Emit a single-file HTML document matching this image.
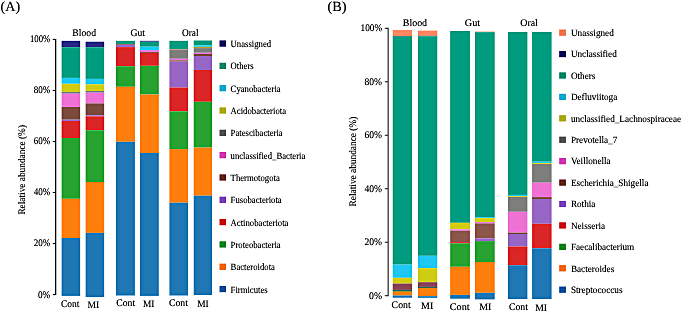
<!DOCTYPE html>
<html><head><meta charset="utf-8"><style>
html,body{margin:0;padding:0;background:#fff;}
svg{display:block;will-change:transform;}
text{font-family:"Liberation Serif",serif;fill:#111;stroke:#111;stroke-width:0.12px;text-rendering:geometricPrecision;}
.ll{font-size:9.6px;}
.rl{font-size:9.6px;}
</style></head><body>
<svg width="685" height="314" viewBox="0 0 685 314">
<defs><filter id="sh" x="0" y="0" width="685" height="314" filterUnits="userSpaceOnUse" color-interpolation-filters="sRGB">
<feGaussianBlur in="SourceGraphic" stdDeviation="0.35" result="s"/>
<feGaussianBlur in="s" stdDeviation="1.5" result="b"/>
<feComposite in="s" in2="b" operator="arithmetic" k1="0" k2="1.5" k3="-0.5" k4="0"/>
</filter></defs>
<g filter="url(#sh)">
<rect x="0" y="0" width="685" height="314" fill="#fff"/>
<text x="0.6" y="11.0" font-size="14" text-anchor="start" textLength="19.6" lengthAdjust="spacingAndGlyphs">(A)</text>
<text x="327.4" y="11.0" font-size="14" text-anchor="start" textLength="19.0" lengthAdjust="spacingAndGlyphs">(B)</text>
<line x1="55.7" y1="38.9" x2="55.7" y2="295.1" stroke="#222" stroke-width="1.2"/>
<line x1="52.8" y1="294.60" x2="55.7" y2="294.60" stroke="#222" stroke-width="1.1"/>
<text x="50.3" y="297.5" font-size="10.0" text-anchor="end" textLength="12.3" lengthAdjust="spacingAndGlyphs">0%</text>
<line x1="52.8" y1="243.56" x2="55.7" y2="243.56" stroke="#222" stroke-width="1.1"/>
<text x="50.3" y="246.46" font-size="10.0" text-anchor="end" textLength="16.6" lengthAdjust="spacingAndGlyphs">20%</text>
<line x1="52.8" y1="192.52" x2="55.7" y2="192.52" stroke="#222" stroke-width="1.1"/>
<text x="50.3" y="195.42000000000002" font-size="10.0" text-anchor="end" textLength="16.6" lengthAdjust="spacingAndGlyphs">40%</text>
<line x1="52.8" y1="141.48" x2="55.7" y2="141.48" stroke="#222" stroke-width="1.1"/>
<text x="50.3" y="144.38000000000002" font-size="10.0" text-anchor="end" textLength="16.6" lengthAdjust="spacingAndGlyphs">60%</text>
<line x1="52.8" y1="90.44" x2="55.7" y2="90.44" stroke="#222" stroke-width="1.1"/>
<text x="50.3" y="93.34" font-size="10.0" text-anchor="end" textLength="16.6" lengthAdjust="spacingAndGlyphs">80%</text>
<line x1="52.8" y1="39.40" x2="55.7" y2="39.40" stroke="#222" stroke-width="1.1"/>
<text x="50.3" y="42.30000000000003" font-size="10.0" text-anchor="end" textLength="20.4" lengthAdjust="spacingAndGlyphs">100%</text>
<text transform="translate(25.4,214.6) rotate(-90)" font-size="10" textLength="89.6" lengthAdjust="spacingAndGlyphs">Relative abundance (%)</text>
<rect x="61.6" y="40.8" width="18.60" height="6.40" fill="#2a2a86"/>
<rect x="61.6" y="47.2" width="18.60" height="30.70" fill="#009c80"/>
<rect x="61.6" y="77.9" width="18.60" height="5.90" fill="#1ec8f0"/>
<rect x="61.6" y="83.8" width="18.60" height="8.10" fill="#cfcc14"/>
<rect x="61.6" y="91.9" width="18.60" height="1.80" fill="#7e7e7c"/>
<rect x="61.6" y="93.7" width="18.60" height="13.30" fill="#ee72d4"/>
<rect x="61.6" y="107.0" width="18.60" height="12.70" fill="#7c4a3e"/>
<rect x="61.6" y="119.7" width="18.60" height="1.30" fill="#9866c4"/>
<rect x="61.6" y="121.0" width="18.60" height="17.00" fill="#da2626"/>
<rect x="61.6" y="138.0" width="18.60" height="60.80" fill="#28a230"/>
<rect x="61.6" y="198.8" width="18.60" height="39.20" fill="#ff7f0e"/>
<rect x="61.6" y="238.0" width="18.60" height="57.90" fill="#1f77b4"/>
<rect x="85.6" y="41.7" width="18.60" height="5.50" fill="#2a2a86"/>
<rect x="85.6" y="47.2" width="18.60" height="31.70" fill="#009c80"/>
<rect x="85.6" y="78.9" width="18.60" height="5.50" fill="#1ec8f0"/>
<rect x="85.6" y="84.4" width="18.60" height="6.60" fill="#cfcc14"/>
<rect x="85.6" y="91.0" width="18.60" height="1.70" fill="#7e7e7c"/>
<rect x="85.6" y="92.7" width="18.60" height="10.70" fill="#ee72d4"/>
<rect x="85.6" y="103.4" width="18.60" height="11.90" fill="#7c4a3e"/>
<rect x="85.6" y="115.3" width="18.60" height="1.00" fill="#9866c4"/>
<rect x="85.6" y="116.3" width="18.60" height="13.90" fill="#da2626"/>
<rect x="85.6" y="130.2" width="18.60" height="51.80" fill="#28a230"/>
<rect x="85.6" y="182.0" width="18.60" height="50.90" fill="#ff7f0e"/>
<rect x="85.6" y="232.9" width="18.60" height="64.10" fill="#1f77b4"/>
<rect x="116.0" y="40.8" width="18.90" height="3.20" fill="#009c80"/>
<rect x="116.0" y="44.0" width="18.90" height="0.80" fill="#7c4a3e"/>
<rect x="116.0" y="44.8" width="18.90" height="2.30" fill="#9866c4"/>
<rect x="116.0" y="47.1" width="18.90" height="19.10" fill="#da2626"/>
<rect x="116.0" y="66.2" width="18.90" height="20.60" fill="#28a230"/>
<rect x="116.0" y="86.8" width="18.90" height="55.00" fill="#ff7f0e"/>
<rect x="116.0" y="141.8" width="18.90" height="153.70" fill="#1f77b4"/>
<rect x="139.9" y="40.8" width="18.90" height="0.90" fill="#2a2a86"/>
<rect x="139.9" y="41.7" width="18.90" height="5.00" fill="#009c80"/>
<rect x="139.9" y="46.7" width="18.90" height="3.40" fill="#1ec8f0"/>
<rect x="139.9" y="50.1" width="18.90" height="2.00" fill="#ee72d4"/>
<rect x="139.9" y="52.1" width="18.90" height="0.90" fill="#7c4a3e"/>
<rect x="139.9" y="53.0" width="18.90" height="12.80" fill="#da2626"/>
<rect x="139.9" y="65.8" width="18.90" height="28.70" fill="#28a230"/>
<rect x="139.9" y="94.5" width="18.90" height="58.50" fill="#ff7f0e"/>
<rect x="139.9" y="153.0" width="18.90" height="142.90" fill="#1f77b4"/>
<rect x="169.4" y="40.8" width="18.70" height="8.20" fill="#009c80"/>
<rect x="169.4" y="49.0" width="18.70" height="0.50" fill="#b39a2a"/>
<rect x="169.4" y="49.5" width="18.70" height="9.30" fill="#7e7e7c"/>
<rect x="169.4" y="58.8" width="18.70" height="1.60" fill="#ee72d4"/>
<rect x="169.4" y="60.4" width="18.70" height="1.20" fill="#7c4a3e"/>
<rect x="169.4" y="61.6" width="18.70" height="25.90" fill="#9866c4"/>
<rect x="169.4" y="87.5" width="18.70" height="23.80" fill="#da2626"/>
<rect x="169.4" y="111.3" width="18.70" height="37.80" fill="#28a230"/>
<rect x="169.4" y="149.1" width="18.70" height="53.60" fill="#ff7f0e"/>
<rect x="169.4" y="202.7" width="18.70" height="92.80" fill="#1f77b4"/>
<rect x="193.7" y="40.5" width="18.30" height="4.70" fill="#009c80"/>
<rect x="193.7" y="45.2" width="18.30" height="1.70" fill="#1ec8f0"/>
<rect x="193.7" y="46.9" width="18.30" height="1.20" fill="#b39a2a"/>
<rect x="193.7" y="48.1" width="18.30" height="4.70" fill="#7e7e7c"/>
<rect x="193.7" y="52.8" width="18.30" height="1.20" fill="#ee72d4"/>
<rect x="193.7" y="54.0" width="18.30" height="2.00" fill="#7c4a3e"/>
<rect x="193.7" y="56.0" width="18.30" height="14.00" fill="#9866c4"/>
<rect x="193.7" y="70.0" width="18.30" height="31.80" fill="#da2626"/>
<rect x="193.7" y="101.8" width="18.30" height="45.80" fill="#28a230"/>
<rect x="193.7" y="147.6" width="18.30" height="48.10" fill="#ff7f0e"/>
<rect x="193.7" y="195.7" width="18.30" height="99.40" fill="#1f77b4"/>
<text x="72.3" y="35.8" font-size="10.0" text-anchor="start" textLength="23.7" lengthAdjust="spacingAndGlyphs">Blood</text>
<text x="130.5" y="35.7" font-size="10.0" text-anchor="start" textLength="14.5" lengthAdjust="spacingAndGlyphs">Gut</text>
<text x="181.9" y="35.5" font-size="10.0" text-anchor="start" textLength="16.6" lengthAdjust="spacingAndGlyphs">Oral</text>
<text x="61.0" y="306.6" font-size="10.0" text-anchor="start" textLength="18.5" lengthAdjust="spacingAndGlyphs">Cont</text>
<text x="87.4" y="307.8" font-size="10.0" text-anchor="start" textLength="11.8" lengthAdjust="spacingAndGlyphs">MI</text>
<text x="116.2" y="306.1" font-size="10.0" text-anchor="start" textLength="18.9" lengthAdjust="spacingAndGlyphs">Cont</text>
<text x="142.9" y="307.0" font-size="10.0" text-anchor="start" textLength="11.5" lengthAdjust="spacingAndGlyphs">MI</text>
<text x="168.9" y="306.3" font-size="10.0" text-anchor="start" textLength="19.0" lengthAdjust="spacingAndGlyphs">Cont</text>
<text x="197.2" y="307.3" font-size="10.0" text-anchor="start" textLength="11.5" lengthAdjust="spacingAndGlyphs">MI</text>
<rect x="219.5" y="40.40" width="6.5" height="6.3" fill="#141462"/>
<text x="230.6" y="47.00" class="ll" textLength="40.5" lengthAdjust="spacingAndGlyphs">Unassigned</text>
<rect x="219.5" y="62.72" width="6.5" height="6.3" fill="#0b8a6a"/>
<text x="230.6" y="69.32" class="ll" textLength="23.1" lengthAdjust="spacingAndGlyphs">Others</text>
<rect x="219.5" y="85.04" width="6.5" height="6.3" fill="#1aadd0"/>
<text x="230.6" y="91.64" class="ll" textLength="50.1" lengthAdjust="spacingAndGlyphs">Cyanobacteria</text>
<rect x="219.5" y="107.36" width="6.5" height="6.3" fill="#adac1c"/>
<text x="230.6" y="113.96" class="ll" textLength="55.4" lengthAdjust="spacingAndGlyphs">Acidobacteriota</text>
<rect x="219.5" y="129.68" width="6.5" height="6.3" fill="#555555"/>
<text x="230.6" y="136.28" class="ll" textLength="52.1" lengthAdjust="spacingAndGlyphs">Patescibacteria</text>
<rect x="219.5" y="152.00" width="6.5" height="6.3" fill="#d13cb4"/>
<text x="230.6" y="158.60" class="ll" textLength="74.7" lengthAdjust="spacingAndGlyphs">unclassified_Bacteria</text>
<rect x="219.5" y="174.32" width="6.5" height="6.3" fill="#682a20"/>
<text x="230.6" y="180.92" class="ll" textLength="49.2" lengthAdjust="spacingAndGlyphs">Thermotogota</text>
<rect x="219.5" y="196.64" width="6.5" height="6.3" fill="#7d45bd"/>
<text x="230.6" y="203.24" class="ll" textLength="51.1" lengthAdjust="spacingAndGlyphs">Fusobacteriota</text>
<rect x="219.5" y="218.96" width="6.5" height="6.3" fill="#cc1414"/>
<text x="230.6" y="225.56" class="ll" textLength="57.8" lengthAdjust="spacingAndGlyphs">Actinobacteriota</text>
<rect x="219.5" y="241.28" width="6.5" height="6.3" fill="#148a22"/>
<text x="230.6" y="247.88" class="ll" textLength="50.1" lengthAdjust="spacingAndGlyphs">Proteobacteria</text>
<rect x="219.5" y="263.60" width="6.5" height="6.3" fill="#f06a14"/>
<text x="230.6" y="270.20" class="ll" textLength="44.3" lengthAdjust="spacingAndGlyphs">Bacteroidota</text>
<rect x="219.5" y="285.92" width="6.5" height="6.3" fill="#1452a0"/>
<text x="230.6" y="292.52" class="ll" textLength="37.1" lengthAdjust="spacingAndGlyphs">Firmicutes</text>
<line x1="388.2" y1="27.8" x2="388.2" y2="296.2" stroke="#7a7a7a" stroke-width="1.6"/>
<line x1="384.8" y1="295.70" x2="388.2" y2="295.70" stroke="#444" stroke-width="1.1"/>
<text x="382.1" y="298.59999999999997" font-size="10.0" text-anchor="end" textLength="13.0" lengthAdjust="spacingAndGlyphs">0%</text>
<line x1="384.8" y1="242.22" x2="388.2" y2="242.22" stroke="#444" stroke-width="1.1"/>
<text x="382.1" y="245.12" font-size="10.0" text-anchor="end" textLength="17.6" lengthAdjust="spacingAndGlyphs">20%</text>
<line x1="384.8" y1="188.74" x2="388.2" y2="188.74" stroke="#444" stroke-width="1.1"/>
<text x="382.1" y="191.64000000000001" font-size="10.0" text-anchor="end" textLength="17.6" lengthAdjust="spacingAndGlyphs">40%</text>
<line x1="384.8" y1="135.26" x2="388.2" y2="135.26" stroke="#444" stroke-width="1.1"/>
<text x="382.1" y="138.16" font-size="10.0" text-anchor="end" textLength="17.6" lengthAdjust="spacingAndGlyphs">60%</text>
<line x1="384.8" y1="81.78" x2="388.2" y2="81.78" stroke="#444" stroke-width="1.1"/>
<text x="382.1" y="84.68" font-size="10.0" text-anchor="end" textLength="17.6" lengthAdjust="spacingAndGlyphs">80%</text>
<line x1="384.8" y1="28.30" x2="388.2" y2="28.30" stroke="#444" stroke-width="1.1"/>
<text x="382.1" y="31.20000000000001" font-size="10.0" text-anchor="end" textLength="21.6" lengthAdjust="spacingAndGlyphs">100%</text>
<text transform="translate(355.6,206.4) rotate(-90)" font-size="10" textLength="89.7" lengthAdjust="spacingAndGlyphs">Relative abundance (%)</text>
<rect x="392.7" y="30.1" width="19.30" height="5.90" fill="#ff8a65"/>
<rect x="392.7" y="36.0" width="19.30" height="0.60" fill="#183838"/>
<rect x="392.7" y="36.6" width="19.30" height="228.00" fill="#009c80"/>
<rect x="392.7" y="264.6" width="19.30" height="13.20" fill="#1ec8f0"/>
<rect x="392.7" y="277.8" width="19.30" height="5.80" fill="#cfcc14"/>
<rect x="392.7" y="283.6" width="19.30" height="6.30" fill="#8a4654"/>
<rect x="392.7" y="289.9" width="19.30" height="1.00" fill="#1e5046"/>
<rect x="392.7" y="290.9" width="19.30" height="0.90" fill="#6a7a20"/>
<rect x="392.7" y="291.8" width="19.30" height="3.70" fill="#ff7f0e"/>
<rect x="392.7" y="295.5" width="19.30" height="2.20" fill="#1f77b4"/>
<rect x="418.0" y="30.6" width="19.30" height="5.20" fill="#ff8a65"/>
<rect x="418.0" y="35.8" width="19.30" height="0.50" fill="#183838"/>
<rect x="418.0" y="36.3" width="19.30" height="219.50" fill="#009c80"/>
<rect x="418.0" y="255.8" width="19.30" height="12.40" fill="#1ec8f0"/>
<rect x="418.0" y="268.2" width="19.30" height="14.00" fill="#cfcc14"/>
<rect x="418.0" y="282.2" width="19.30" height="4.70" fill="#8a4654"/>
<rect x="418.0" y="286.9" width="19.30" height="1.00" fill="#1e5046"/>
<rect x="418.0" y="287.9" width="19.30" height="8.30" fill="#ff7f0e"/>
<rect x="418.0" y="296.2" width="19.30" height="1.60" fill="#1f77b4"/>
<rect x="450.2" y="31.0" width="19.70" height="191.80" fill="#009c80"/>
<rect x="450.2" y="222.8" width="19.70" height="6.50" fill="#cfcc14"/>
<rect x="450.2" y="229.3" width="19.70" height="1.40" fill="#ee72d4"/>
<rect x="450.2" y="230.7" width="19.70" height="11.40" fill="#8c564b"/>
<rect x="450.2" y="242.1" width="19.70" height="1.20" fill="#da2626"/>
<rect x="450.2" y="243.3" width="19.70" height="23.50" fill="#28a230"/>
<rect x="450.2" y="266.8" width="19.70" height="28.10" fill="#ff7f0e"/>
<rect x="450.2" y="294.9" width="19.70" height="3.80" fill="#1f77b4"/>
<rect x="475.0" y="31.6" width="19.70" height="0.60" fill="#ff8a65"/>
<rect x="475.0" y="32.2" width="19.70" height="185.00" fill="#009c80"/>
<rect x="475.0" y="217.2" width="19.70" height="0.90" fill="#1ec8f0"/>
<rect x="475.0" y="218.1" width="19.70" height="4.00" fill="#cfcc14"/>
<rect x="475.0" y="222.1" width="19.70" height="1.30" fill="#ee72d4"/>
<rect x="475.0" y="223.4" width="19.70" height="14.90" fill="#8c564b"/>
<rect x="475.0" y="238.3" width="19.70" height="2.80" fill="#9866c4"/>
<rect x="475.0" y="241.1" width="19.70" height="20.90" fill="#28a230"/>
<rect x="475.0" y="262.0" width="19.70" height="30.80" fill="#ff7f0e"/>
<rect x="475.0" y="292.8" width="19.70" height="6.60" fill="#1f77b4"/>
<rect x="508.0" y="31.9" width="19.40" height="163.00" fill="#009c80"/>
<rect x="508.0" y="194.9" width="19.40" height="1.10" fill="#1ec8f0"/>
<rect x="508.0" y="196.0" width="19.40" height="0.80" fill="#cfcc14"/>
<rect x="508.0" y="196.8" width="19.40" height="15.00" fill="#7e7e7c"/>
<rect x="508.0" y="211.8" width="19.40" height="20.90" fill="#ee72d4"/>
<rect x="508.0" y="232.7" width="19.40" height="1.30" fill="#7c4a3e"/>
<rect x="508.0" y="234.0" width="19.40" height="12.50" fill="#9866c4"/>
<rect x="508.0" y="246.5" width="19.40" height="18.70" fill="#da2626"/>
<rect x="508.0" y="265.2" width="19.40" height="33.80" fill="#1f77b4"/>
<rect x="532.1" y="31.9" width="19.50" height="129.80" fill="#009c80"/>
<rect x="532.1" y="161.7" width="19.50" height="1.30" fill="#1ec8f0"/>
<rect x="532.1" y="163.0" width="19.50" height="1.00" fill="#cfcc14"/>
<rect x="532.1" y="164.0" width="19.50" height="18.70" fill="#7e7e7c"/>
<rect x="532.1" y="182.7" width="19.50" height="14.40" fill="#ee72d4"/>
<rect x="532.1" y="197.1" width="19.50" height="1.90" fill="#7c4a3e"/>
<rect x="532.1" y="199.0" width="19.50" height="24.80" fill="#9866c4"/>
<rect x="532.1" y="223.8" width="19.50" height="24.50" fill="#da2626"/>
<rect x="532.1" y="248.3" width="19.50" height="50.70" fill="#1f77b4"/>
<text x="402.8" y="25.7" font-size="10.0" text-anchor="start" textLength="24.3" lengthAdjust="spacingAndGlyphs">Blood</text>
<text x="464.8" y="25.7" font-size="10.0" text-anchor="start" textLength="15.4" lengthAdjust="spacingAndGlyphs">Gut</text>
<text x="520.2" y="25.7" font-size="10.0" text-anchor="start" textLength="17.7" lengthAdjust="spacingAndGlyphs">Oral</text>
<text x="391.6" y="308.2" font-size="10.0" text-anchor="start" textLength="19.1" lengthAdjust="spacingAndGlyphs">Cont</text>
<text x="421.1" y="309.2" font-size="10.0" text-anchor="start" textLength="12.2" lengthAdjust="spacingAndGlyphs">MI</text>
<text x="449.8" y="309.5" font-size="10.0" text-anchor="start" textLength="19.9" lengthAdjust="spacingAndGlyphs">Cont</text>
<text x="479.2" y="309.9" font-size="10.0" text-anchor="start" textLength="12.2" lengthAdjust="spacingAndGlyphs">MI</text>
<text x="508.9" y="309.8" font-size="10.0" text-anchor="start" textLength="19.0" lengthAdjust="spacingAndGlyphs">Cont</text>
<text x="535.2" y="310.9" font-size="10.0" text-anchor="start" textLength="11.9" lengthAdjust="spacingAndGlyphs">MI</text>
<rect x="559.2" y="29.50" width="6.7" height="6.3" fill="#f07850"/>
<text x="570.9" y="35.90" class="rl" textLength="42.9" lengthAdjust="spacingAndGlyphs">Unassigned</text>
<rect x="559.2" y="50.92" width="6.7" height="6.3" fill="#141462"/>
<text x="570.9" y="57.32" class="rl" textLength="45.9" lengthAdjust="spacingAndGlyphs">Unclassified</text>
<rect x="559.2" y="72.34" width="6.7" height="6.3" fill="#0b8a6a"/>
<text x="570.9" y="78.74" class="rl" textLength="24.5" lengthAdjust="spacingAndGlyphs">Others</text>
<rect x="559.2" y="93.76" width="6.7" height="6.3" fill="#1aadd0"/>
<text x="570.9" y="100.16" class="rl" textLength="46.4" lengthAdjust="spacingAndGlyphs">Defluviitoga</text>
<rect x="559.2" y="115.18" width="6.7" height="6.3" fill="#adac1c"/>
<text x="570.9" y="121.58" class="rl" textLength="110.2" lengthAdjust="spacingAndGlyphs">unclassified_Lachnospiraceae</text>
<rect x="559.2" y="136.60" width="6.7" height="6.3" fill="#555555"/>
<text x="570.9" y="143.00" class="rl" textLength="46.4" lengthAdjust="spacingAndGlyphs">Prevotella_7</text>
<rect x="559.2" y="158.02" width="6.7" height="6.3" fill="#d13cb4"/>
<text x="570.9" y="164.42" class="rl" textLength="39.8" lengthAdjust="spacingAndGlyphs">Veillonella</text>
<rect x="559.2" y="179.44" width="6.7" height="6.3" fill="#682a20"/>
<text x="570.9" y="185.84" class="rl" textLength="77.6" lengthAdjust="spacingAndGlyphs">Escherichia_Shigella</text>
<rect x="559.2" y="200.86" width="6.7" height="6.3" fill="#7d45bd"/>
<text x="570.9" y="207.26" class="rl" textLength="24.5" lengthAdjust="spacingAndGlyphs">Rothia</text>
<rect x="559.2" y="222.28" width="6.7" height="6.3" fill="#cc1414"/>
<text x="570.9" y="228.68" class="rl" textLength="34.2" lengthAdjust="spacingAndGlyphs">Neisseria</text>
<rect x="559.2" y="243.70" width="6.7" height="6.3" fill="#148a22"/>
<text x="570.9" y="250.10" class="rl" textLength="63.3" lengthAdjust="spacingAndGlyphs">Faecalibacterium</text>
<rect x="559.2" y="265.12" width="6.7" height="6.3" fill="#f06a14"/>
<text x="570.9" y="271.52" class="rl" textLength="43.4" lengthAdjust="spacingAndGlyphs">Bacteroides</text>
<rect x="559.2" y="286.54" width="6.7" height="6.3" fill="#1452a0"/>
<text x="570.9" y="292.94" class="rl" textLength="51.6" lengthAdjust="spacingAndGlyphs">Streptococcus</text>
</g>
</svg>
</body></html>
